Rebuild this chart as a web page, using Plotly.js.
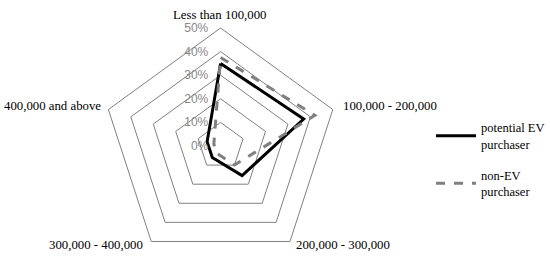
<!DOCTYPE html>
<html><head><meta charset="utf-8">
<script src="https://cdn.plot.ly/plotly-3.0.1.min.js"></script>
<style>body{margin:0;padding:0;background:#fff}#chart{width:550px;height:264px}</style>
</head><body><div id="chart"></div>
<script>
const categories = ["Less than 100,000", "100,000 - 200,000", "200,000 - 300,000", "300,000 - 400,000", "400,000 and above"];
const potentialEV = [35, 37, 15.5, 6, 6];
const nonEV = [37.5, 42, 10, 3.5, 3];
const radialTicks = [0, 10, 20, 30, 40, 50];

function closed(a){ return a.concat([a[0]]); }

const traces = [
  {type:'scatterpolar', mode:'lines', r: closed(potentialEV), theta: closed(categories), legendgroup:'a',
   name:'potential EV<br>purchaser', line:{color:'#000000', width:3}},
  {type:'scatterpolar', mode:'lines', r: closed(nonEV), theta: closed(categories), legendgroup:'b',
   name:'non-EV<br>purchaser', line:{color:'#808080', width:3, dash:'dash'}}
];

const pad = '\u00a0'.repeat(3);
const labelFont = {family:'Liberation Serif, serif', size:12.8, color:'#000'};
// category label placement (page px)
const labelPos = [
  {x:220, y:15, xanchor:'center'},
  {x:342, y:106, xanchor:'left'},
  {x:295, y:245, xanchor:'left'},
  {x:145, y:245, xanchor:'right'},
  {x:103, y:106, xanchor:'right'}
];

const layout = {
  width:550, height:264,
  margin:{l:0, r:0, t:28, b:0},
  paper_bgcolor:'#ffffff',
  font:{family:'Liberation Serif, serif', size:12.5, color:'#000'},
  showlegend:true,
  legend:{x:0.785, y:0.64, xanchor:'left', yanchor:'top', font:{family:'Liberation Serif, serif', size:12.5, color:'#000'}, tracegroupgap:12, itemwidth:40},
  annotations: categories.map((c,i)=>({
    text:c, xref:'paper', yref:'paper',
    x:labelPos[i].x/550, y:1-(labelPos[i].y-28)/236,
    xanchor:labelPos[i].xanchor, yanchor:'middle', showarrow:false, font:labelFont
  })),
  polar:{
    domain:{x:[102/550, 340/550], y:[0,1]},
    gridshape:'linear',
    bgcolor:'#ffffff',
    angularaxis:{rotation:90, direction:'clockwise', showgrid:false, linecolor:'#808080', linewidth:1,
      ticks:'', showticklabels:false},
    radialaxis:{range:[0,50], tickvals:radialTicks, ticktext:radialTicks.map(v=>v+'%'+pad), angle:90, side:'counterclockwise',
      showline:false, ticks:'', gridcolor:'#808080', gridwidth:1, tickangle:90,
      tickfont:{family:'Liberation Sans, Arial, sans-serif', size:12, color:'#888888'}}
  }
};
Plotly.newPlot('chart', traces, layout, {displayModeBar:false, staticPlot:true});
</script></body></html>
